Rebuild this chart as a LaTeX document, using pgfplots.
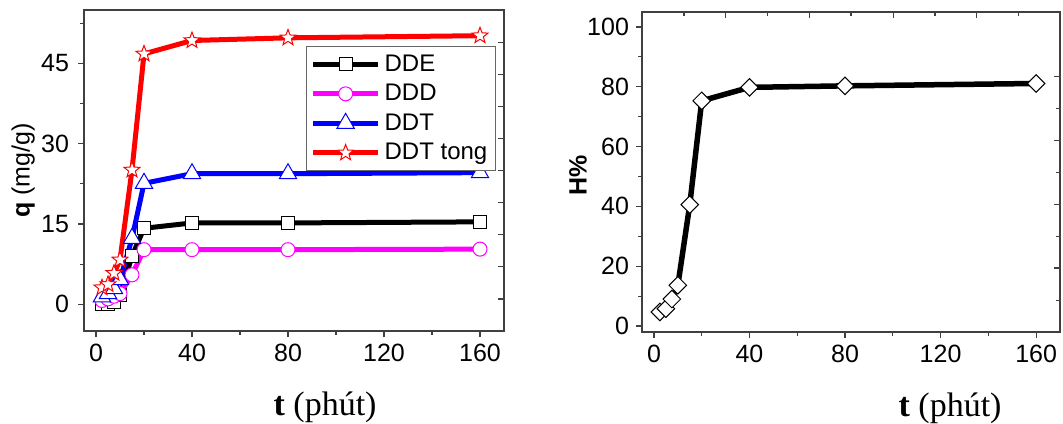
\documentclass[border=0pt]{standalone}
\usepackage{fontspec}
\setmainfont{Liberation Sans}
\newfontfamily\tnr{Liberation Serif}
\usepackage{pgfplots}
\pgfplotsset{compat=1.18}
\definecolor{mag}{RGB}{255,0,255}
\definecolor{pblue}{RGB}{0,0,255}
\definecolor{pred}{RGB}{255,0,0}

% five-pointed open star like Origin's
\pgfdeclareplotmark{fivestar}{%
  \pgfpathmoveto{\pgfpointpolar{90}{\pgfplotmarksize}}%
  \pgfpathlineto{\pgfpointpolar{126}{0.42\pgfplotmarksize}}%
  \pgfpathlineto{\pgfpointpolar{162}{\pgfplotmarksize}}%
  \pgfpathlineto{\pgfpointpolar{198}{0.42\pgfplotmarksize}}%
  \pgfpathlineto{\pgfpointpolar{234}{\pgfplotmarksize}}%
  \pgfpathlineto{\pgfpointpolar{270}{0.42\pgfplotmarksize}}%
  \pgfpathlineto{\pgfpointpolar{306}{\pgfplotmarksize}}%
  \pgfpathlineto{\pgfpointpolar{342}{0.42\pgfplotmarksize}}%
  \pgfpathlineto{\pgfpointpolar{18}{\pgfplotmarksize}}%
  \pgfpathlineto{\pgfpointpolar{54}{0.42\pgfplotmarksize}}%
  \pgfpathclose
  \pgfusepathqfillstroke}

\pgfplotsset{
  panel/.style={
    scale only axis, anchor=south west,
    axis line style={black!75, line width=0.75pt},
    tick style={black!75, line width=0.6pt},
    major tick length=3pt, minor tick length=2pt,
    tick align=outside, xtick pos=bottom, ytick pos=left,
    ticklabel style={font=\fontsize{12.5}{14}\selectfont},
    /pgf/number format/assume math mode=true,
    label style={font=\fontsize{12.5}{14}\selectfont},
    xtick={0,40,80,120,160}, minor xtick={20,60,100,140},
    xmin=-5, xmax=170,
  },
  mirror/.style={
    scale only axis, anchor=south west,
    axis line style={black!75, line width=0.75pt},
    tick style={black!75, line width=0.6pt},
    major tick length=3pt, minor tick length=2pt,
    tick align=inside, xticklabels={}, yticklabels={},
    xmin=-5, xmax=170,
  },
  legend image code/.code={\draw[mark repeat=2,mark phase=2,#1]
    plot coordinates {(0pt,0pt) (16.25pt,0pt) (32.5pt,0pt)};},
}

\begin{document}
\begin{tikzpicture}
\useasboundingbox (0,0) rectangle (531.5pt,211.5pt);

% left panel: q vs t
\begin{axis}[panel, at={(42pt,46pt)}, width=210pt, height=160.5pt,
  ymin=-5, ymax=55, ytick={0,15,30,45}, minor ytick={7.5,22.5,37.5,52.5},
  yticklabel style={xshift=-1pt},
  xlabel={{\tnr\fontsize{17}{19}\selectfont\textbf{t} (phút)}},
  xlabel style={at={(axis description cs:0.574,-0.237)}, anchor=center},
  ylabel={\textbf{q} (mg/g)},
  ylabel style={at={(axis description cs:-0.145,0.5)}, anchor=center},
  legend style={at={(0.5286,0.888)}, anchor=north west, draw=black!60, line width=0.6pt,
    font=\fontsize{12}{13}\selectfont, row sep=1pt, inner sep=2pt},
  legend cell align=left]
\addplot[black, line width=2.5pt, mark=square*, mark size=3.25pt,
  mark options={solid, fill=white, draw=black, line width=0.5pt}]
  coordinates {(2.5,0.0) (5,0.1) (7.5,0.4) (10,1.7) (15,9.0) (20,14.2) (40,15.2) (80,15.2) (160,15.4)};
\addplot[mag, line width=2.5pt, mark=*, mark size=3.5pt,
  mark options={solid, fill=white, draw=mag, line width=0.5pt}]
  coordinates {(2.5,0.7) (5,1.0) (7.5,1.5) (10,2.0) (15,5.5) (20,10.2) (40,10.2) (80,10.2) (160,10.3)};
\addplot[pblue, line width=2.5pt, mark=triangle*, mark size=5pt,
  mark options={solid, fill=white, draw=pblue, line width=0.5pt}]
  coordinates {(2.5,1.4) (5,2.0) (7.5,2.9) (10,4.6) (15,12.3) (20,22.6) (40,24.4) (80,24.4) (160,24.6)};
\addplot[pred, line width=2.5pt, mark=fivestar, mark size=4.2pt,
  mark options={solid, fill=white, draw=pred, line width=0.5pt}]
  coordinates {(2.5,3.1) (5,3.7) (7.5,5.8) (10,8.3) (15,25.1) (20,46.8) (40,49.3) (80,49.8) (160,50.2)};
\legend{DDE,DDD,DDT,DDT tong}
\end{axis}
\begin{axis}[mirror, at={(42pt,46pt)}, width=210pt, height=160.5pt,
  ymin=-5, ymax=55, hide x axis, axis y line*=right,
  ytick={1,7,13,19,25,31,37,43,49}]
\end{axis}

% right panel: H% vs t
\begin{axis}[panel, at={(321pt,45.5pt)}, width=209pt, height=160pt,
  ymin=-2, ymax=105, ytick={0,20,40,60,80,100}, minor ytick={10,30,50,70,90},
  xlabel={{\tnr\fontsize{17}{19}\selectfont\textbf{t} (phút)}},
  xlabel style={at={(axis description cs:0.737,-0.2375)}, anchor=center},
  ylabel={\textbf{H\%}},
  ylabel style={at={(axis description cs:-0.153,0.49)}, anchor=center}]
\addplot[black, line width=2.75pt, mark=square*, mark size=3.1pt,
  mark options={solid, fill=white, draw=black, line width=0.5pt, rotate=45}]
  coordinates {(2.5,4.7) (5,5.8) (7.5,9.0) (10,13.6) (15,40.6) (20,75.3) (40,79.8) (80,80.3) (160,81.1)};
\end{axis}
\begin{axis}[mirror, at={(321pt,45.5pt)}, width=209pt, height=160pt,
  ymin=-2, ymax=105, axis x line*=top, axis y line*=right,
  xtick={30.1,65,100.3,135.2}, minor xtick={12.6,47.6,82.5,117.7,152.7},
  ytick={19.4,40.6,61.9,83.3}, minor ytick={8.6,30,51.2,72.7}]
\end{axis}
\end{tikzpicture}
\end{document}
